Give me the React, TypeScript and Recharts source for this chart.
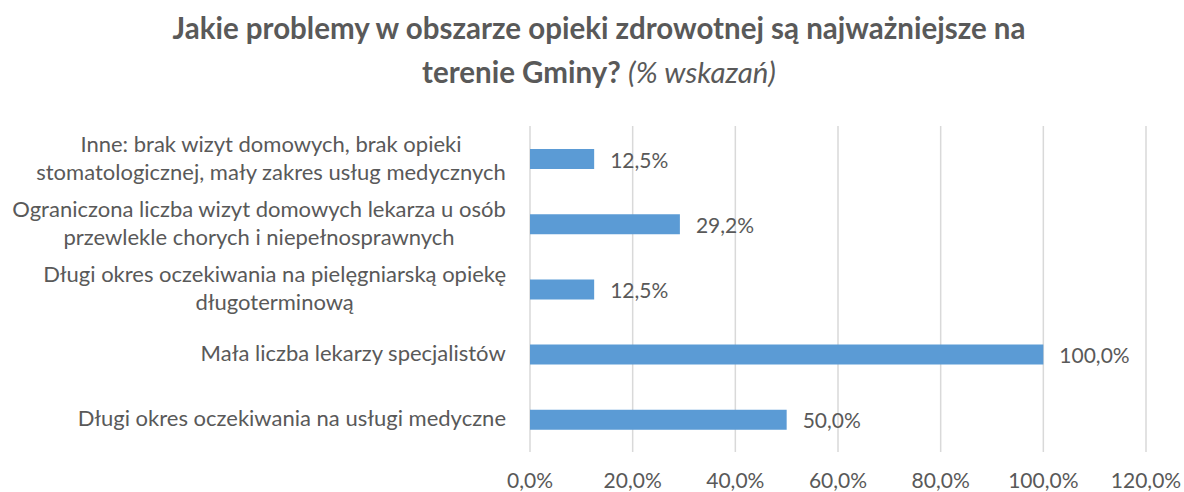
import { Bar, BarChart, CartesianGrid, LabelList, XAxis, YAxis } from "recharts";

const categories = [
  "Inne: brak wizyt domowych, brak opieki\nstomatologicznej, mały zakres usług medycznych",
  "Ograniczona liczba wizyt domowych lekarza u osób\nprzewlekle chorych i niepełnosprawnych",
  "Długi okres oczekiwania na pielęgniarską opiekę\ndługoterminową",
  "Mała liczba lekarzy specjalistów",
  "Długi okres oczekiwania na usługi medyczne",
];
const shares = [12.5, 29.2, 12.5, 100, 50];
const xTicks = [0, 20, 40, 60, 80, 100, 120];

const TEXT = "#595959";
const FONT = "Lato, 'Open Sans', sans-serif";
const CAT_SIZE = 22;
const NUM_SIZE = 21;

const data = categories.map((name, i) => ({ name, value: shares[i] }));

const pct = (v: number) => v.toFixed(1).replace(".", ",") + "%";

// measure lines so multi-line labels are centred inside a right-aligned block
let ctx: CanvasRenderingContext2D | null = null;
function textWidth(s: string): number {
  if (!ctx) {
    ctx = document.createElement("canvas").getContext("2d");
  }
  if (!ctx) return s.length * CAT_SIZE * 0.48;
  ctx.font = `${CAT_SIZE}px Lato`;
  return ctx.measureText(s).width;
}

function CategoryTick(props: any) {
  const { y, payload } = props;
  const lines: string[] = String(payload.value).split("\n");
  const blockW = Math.max(...lines.map(textWidth));
  const cx = 506 - blockW / 2;
  const lh = 28;
  return (
    <g>
      {lines.map((line, i) => (
        <text
          key={i}
          x={cx}
          y={y + 7 + (i - (lines.length - 1) / 2) * lh}
          textAnchor="middle"
          fill={TEXT}
          fontSize={CAT_SIZE}
          fontFamily={FONT}
        >
          {line}
        </text>
      ))}
    </g>
  );
}

function ValueTick(props: any) {
  const { x, payload } = props;
  return (
    <text x={x} y={488} textAnchor="middle" fill={TEXT} fontSize={NUM_SIZE} fontFamily={FONT}>
      {pct(payload.value)}
    </text>
  );
}

function ValueLabel(props: any) {
  const { x, y, width, height, value } = props;
  return (
    <text
      x={x + width + 16}
      y={y + height / 2 + 8.5}
      fill={TEXT}
      fontSize={NUM_SIZE}
      fontFamily={FONT}
    >
      {pct(Number(value))}
    </text>
  );
}

export default function App() {
  return (
    <div
      style={{
        position: "absolute",
        left: 0,
        top: 0,
        width: 1184,
        height: 492,
        background: "#fff",
        fontFamily: FONT,
      }}
    >
      <svg width={1184} height={110} style={{ position: "absolute", left: 0, top: 0 }}>
        <text x={599} y={39} textAnchor="middle" fill={TEXT} fontSize={29.5} fontWeight="bold" fontFamily={FONT}>
          Jakie problemy w obszarze opieki zdrowotnej są najważniejsze na
        </text>
        <text x={599} y={83} textAnchor="middle" fill={TEXT} fontSize={29.5} fontFamily={FONT}>
          <tspan fontWeight="bold">terenie Gminy? </tspan>
          <tspan fontStyle="italic">(% wskazań)</tspan>
        </text>
      </svg>
      <BarChart
        width={1184}
        height={492}
        data={data}
        layout="vertical"
        margin={{ top: 126, right: 38, bottom: 0, left: 0 }}
      >
        <CartesianGrid horizontal={false} stroke="#D9D9D9" strokeWidth={1.5} />
        <XAxis
          type="number"
          domain={[0, 120]}
          ticks={xTicks}
          axisLine={false}
          tickLine={false}
          height={40}
          tick={<ValueTick />}
        />
        <YAxis
          type="category"
          dataKey="name"
          width={530}
          axisLine={false}
          tickLine={false}
          interval={0}
          tick={<CategoryTick />}
        />
        <Bar dataKey="value" fill="#5B9BD5" barSize={20} isAnimationActive={false}>
          <LabelList dataKey="value" content={<ValueLabel />} />
        </Bar>
      </BarChart>
    </div>
  );
}
